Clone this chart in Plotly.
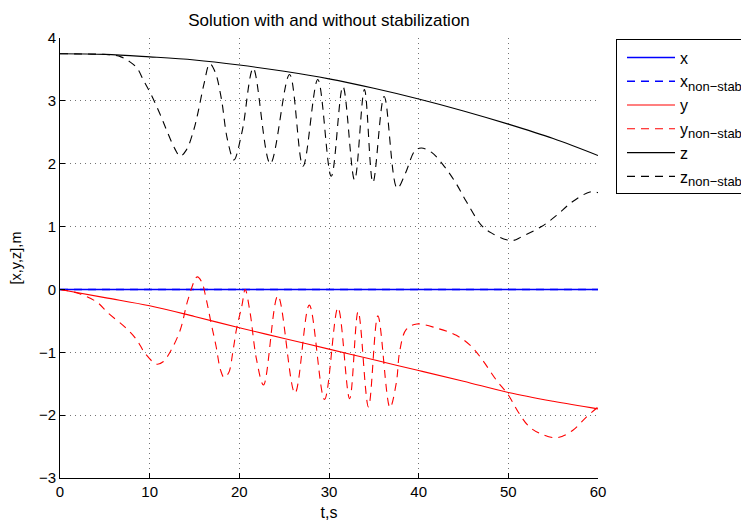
import plotly.graph_objects as go

# time grid for the stabilised solutions (s)
t_stab = [0, 5, 10, 15, 20, 25, 30, 35, 40, 45, 50, 55, 60]
x_stab = [0, 0, 0, 0, 0, 0, 0, 0, 0, 0, 0, 0, 0]
y_stab = [0, -0.13, -0.26, -0.43, -0.61, -0.78, -0.95, -1.12, -1.29, -1.46, -1.64, -1.78, -1.90]
z_stab = [3.75, 3.74, 3.70, 3.65, 3.57, 3.47, 3.35, 3.20, 3.03, 2.84, 2.63, 2.40, 2.13]

# non-stabilised x stays on zero
t_x_ns = [0, 60]
x_ns = [0, 0]

# non-stabilised y
t_y_ns = [0, 2, 4.1, 5.4, 7.25, 8.55, 9.5, 10.8, 11.5, 12.3, 13.4, 14.3, 15.3, 15.8,
          16.3, 16.8, 17.4, 17.9, 18.3, 18.8, 19.3, 19.7, 20.3, 20.65, 21.2, 21.9, 22.7,
          24.3, 26.2, 27.8, 29.5, 31.0, 32.3, 33.25, 34.4, 35.45, 36.8, 37.5, 37.9,
          38.6, 39.8, 42.1, 44.2, 45.9, 47.2, 48.6, 50.0, 51.1, 52.3, 53.5, 55.4,
          57.2, 58.7, 60.0]
y_ns = [0, -0.06, -0.2, -0.38, -0.6, -0.8, -1.02, -1.19, -1.15, -0.99, -0.65, -0.15, 0.2, 0.12,
        -0.15, -0.5, -0.9, -1.28, -1.40, -1.33, -0.97, -0.62, -0.25, 0.0, -0.37, -1.1, -1.52,
        -0.1, -1.65, -0.25, -1.75, -0.29, -1.74, -0.35, -1.87, -0.42, -1.88, -1.49, -0.97,
        -0.64, -0.55, -0.62, -0.73, -0.91, -1.14, -1.43, -1.68, -1.95, -2.18, -2.29, -2.36,
        -2.24, -2.03, -1.87]

# non-stabilised z
t_z_ns = [0, 3, 5.5, 6.8, 7.8, 8.6, 9.3, 10.2, 11.15, 11.9, 12.8, 13.4, 14.1,
          14.9, 15.4, 16.06, 16.7, 17.3, 18.0, 18.65, 19.4, 20.26, 20.5, 21.55,
          23.45, 25.6, 27.1, 28.75, 30.25, 31.55, 32.85, 33.95, 34.9, 36.15, 37.6,
          38.5, 39.6, 40.3, 41.45, 42.9, 44.2, 45.35, 47.0, 48.1, 49.8, 50.6, 51.5,
          53.7, 55.4, 57.1, 59.1, 60]
z_ns = [3.75, 3.745, 3.735, 3.70, 3.62, 3.52, 3.33, 3.09, 2.79, 2.53, 2.24, 2.12, 2.22,
        2.53, 2.82, 3.27, 3.59, 3.46, 3.03, 2.40, 2.06, 2.48, 2.66, 3.52,
        2.0, 3.42, 1.96, 3.34, 1.80, 3.23, 1.74, 3.18, 1.70, 3.07, 1.61,
        1.84, 2.21, 2.25, 2.18, 1.95, 1.68, 1.39, 1.02, 0.90, 0.79, 0.78, 0.84,
        1.0, 1.18, 1.39, 1.55, 1.54]

x_ticks = [0, 10, 20, 30, 40, 50, 60]
y_ticks = [-3, -2, -1, 0, 1, 2, 3, 4]

BLUE, RED, BLACK = "#0000ff", "#ff0000", "#000000"
DASH = "8px,6px"
FONT = "Liberation Sans, Arial, Helvetica, sans-serif"


def sub_label(main):
    return main + '<sub><span style="font-size:13px">non\u2212stab</span></sub>'


series = [
    ("x", t_stab, x_stab, BLUE, "solid", 1.5),
    (sub_label("x"), t_x_ns, x_ns, BLUE, DASH, 1.5),
    ("y", t_stab, y_stab, RED, "solid", 1.1),
    (sub_label("y"), t_y_ns, y_ns, RED, DASH, 1.1),
    ("z", t_stab, z_stab, BLACK, "solid", 1.1),
    (sub_label("z"), t_z_ns, z_ns, BLACK, DASH, 1.1),
]

fig = go.Figure()
for i, (name, t, v, col, dash, lw) in enumerate(series):
    fig.add_trace(go.Scatter(
        x=t, y=v, name=name, mode="lines", legendgroup=f"g{i}",
        line=dict(color=col, width=lw, dash=dash, shape="spline", smoothing=1.0),
    ))

axis_style = dict(showgrid=True, gridcolor="rgba(0,0,0,0.55)", gridwidth=1, griddash="1px,4px",
                  zeroline=False, showline=True, linecolor="black", linewidth=1,
                  ticks="inside", ticklen=5, tickcolor="black",
                  tickfont=dict(family=FONT, size=15, color="black"))

fig.update_xaxes(range=[0, 60], tickvals=x_ticks, ticktext=[str(v) for v in x_ticks],
                 title=dict(text="t,s", font=dict(family=FONT, size=16, color="black"), standoff=7),
                 **axis_style)
fig.update_yaxes(range=[-3, 4], tickvals=y_ticks,
                 ticktext=[("\u2212" + str(-v)) if v < 0 else str(v) for v in y_ticks],
                 title=dict(text="[x,y,z],m", font=dict(family=FONT, size=14.5, color="black"), standoff=13),
                 **axis_style)

fig.update_layout(
    width=741, height=521,
    margin=dict(l=60, r=143, t=37.5, b=43.3, autoexpand=False),
    paper_bgcolor="white", plot_bgcolor="white",
    title=dict(text="Solution with and without stabilization", x=(60 + 538 / 2) / 741, xanchor="center",
               y=1 - 20 / 521, yanchor="middle", font=dict(family=FONT, size=17, color="black")),
    font=dict(family=FONT, size=16, color="black"),
    showlegend=True,
    legend=dict(x=(616 - 60) / 538, y=(477.7 - 39) / 440.2, xanchor="left", yanchor="top",
                bordercolor="black", borderwidth=1, bgcolor="white",
                itemwidth=48, indentation=5, font=dict(family=FONT, size=16, color="black"),
                traceorder="normal", tracegroupgap=1.5),
)

fig.write_html("out.html")
